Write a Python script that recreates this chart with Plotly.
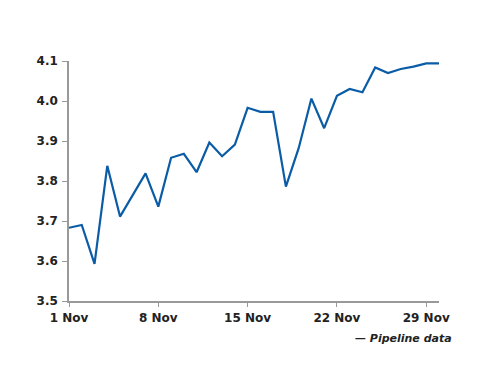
import plotly.graph_objects as go

dates = [f"2023-11-{d:02d}" for d in range(1, 31)]
values = [3.683, 3.690, 3.593, 3.838, 3.711, 3.765, 3.819, 3.736, 3.858, 3.868,
          3.822, 3.896, 3.862, 3.891, 3.983, 3.973, 3.973, 3.786, 3.882, 4.006,
          3.932, 4.013, 4.030, 4.022, 4.084, 4.070, 4.080, 4.086, 4.094, 4.094]
tick_dates = ["2023-11-01", "2023-11-08", "2023-11-15", "2023-11-22", "2023-11-29"]
tick_labels = ["1 Nov", "8 Nov", "15 Nov", "22 Nov", "29 Nov"]
y_ticks = [3.5, 3.6, 3.7, 3.8, 3.9, 4.0, 4.1]
y_labels = ["3.5", "3.6", "3.7", "3.8", "3.9", "4.0", "4.1"]
series_name = "Pipeline data"

fig = go.Figure()
fig.add_trace(go.Scatter(x=dates, y=values, mode="lines", name=series_name,
                         line=dict(color="#0B5CA6", width=2.2), showlegend=False))

tickfont = dict(family="DejaVu Sans", size=12, color="#222222", weight="bold")
fig.update_layout(
    width=500, height=386,
    margin=dict(l=61, r=69, t=53, b=93),
    plot_bgcolor="white", paper_bgcolor="white",
    xaxis=dict(type="date", range=["2023-11-01", "2023-11-30"],
               tickvals=tick_dates, ticktext=tick_labels,
               showgrid=False, zeroline=False, showline=True,
               linecolor="#999999", linewidth=1.5,
               ticks="outside", ticklen=4, tickcolor="#999999",
               ticklabelstandoff=1,
               tickfont=tickfont),
    yaxis=dict(range=[3.5, 4.1], tickvals=y_ticks, ticktext=y_labels,
               showgrid=False, zeroline=False, showline=True,
               linecolor="#999999", linewidth=1.5,
               ticks="outside", ticklen=5, tickcolor="#999999",
               ticklabelstandoff=2,
               tickfont=tickfont),
    annotations=[dict(text="— " + series_name, xref="paper", yref="paper",
                      x=1.04, y=-0.155, xanchor="right", yanchor="middle",
                      showarrow=False,
                      font=dict(family="DejaVu Sans", size=11, color="#222222",
                                weight="bold", style="italic"))],
)

fig.write_html("out.html")
